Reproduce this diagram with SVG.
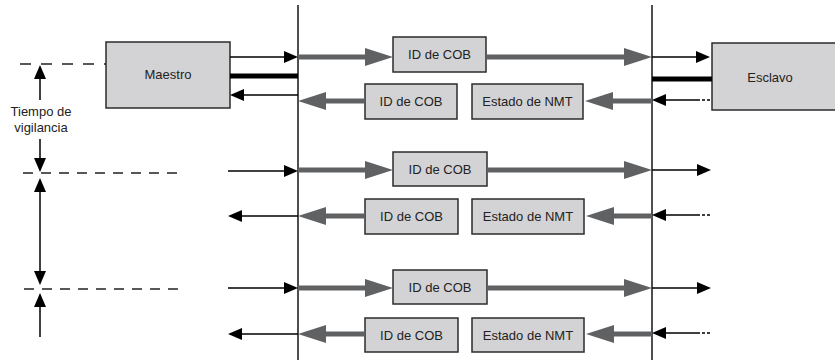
<svg xmlns="http://www.w3.org/2000/svg" width="835" height="360" viewBox="0 0 835 360">
<style>
.box{fill:#d3d3d5;stroke:#2b2b2b;stroke-width:1.5}
.t{font-family:"Liberation Sans",Arial,sans-serif;font-size:13px;fill:#222;text-anchor:middle}
.bus{stroke:#222;stroke-width:1.6;fill:none}
.blka{stroke:#000;stroke-width:1.5;fill:none;marker-end:url(#ah)}
.both{stroke:#000;stroke-width:1.5;fill:none;marker-end:url(#ah);marker-start:url(#ahs)}
.gra{stroke:#5f6163;stroke-width:5;fill:none;marker-end:url(#gh)}
.thick{stroke:#000;stroke-width:5;fill:none}
.dash{stroke:#222;stroke-width:1.3;fill:none;stroke-dasharray:10 8}
.dot{stroke:#000;stroke-width:1.5;fill:none;stroke-dasharray:3 2}
</style>
<defs>
<marker id="ah" markerUnits="userSpaceOnUse" markerWidth="14" markerHeight="12" refX="11" refY="6" orient="auto"><path d="M0,0 L14,6 L0,12 z" fill="#000"/></marker>
<marker id="ahs" markerUnits="userSpaceOnUse" markerWidth="14" markerHeight="12" refX="11" refY="6" orient="auto-start-reverse"><path d="M0,0 L14,6 L0,12 z" fill="#000"/></marker>
<marker id="gh" markerUnits="userSpaceOnUse" markerWidth="28" markerHeight="18" refX="8" refY="9" orient="auto"><path d="M0,0 L28,9 L0,18 z" fill="#5f6163"/></marker>
</defs>

<g id="buses">
<line class="bus" x1="298" y1="5" x2="298" y2="360"/>
<line class="bus" x1="652" y1="5" x2="652" y2="360"/>
</g>

<g id="timeline">
<line class="dash" x1="20" y1="64" x2="106" y2="64" style="stroke-dasharray:11 10"/>
<line class="dash" x1="23" y1="173" x2="182" y2="173"/>
<line class="dash" x1="24" y1="289" x2="182" y2="289"/>
<line class="blka" x1="40" y1="100" x2="40" y2="68"/>
<line class="blka" x1="40" y1="139" x2="40" y2="169"/>
<line class="both" x1="40" y1="181" x2="40" y2="282"/>
<line class="blka" x1="40" y1="337" x2="40" y2="296"/>
<text class="t" x="41" y="116">Tiempo de</text>
<text class="t" x="41" y="132">vigilancia</text>
</g>

<g id="maestro">
<rect class="box" x="106" y="42" width="124" height="66"/>
<text class="t" x="168" y="79">Maestro</text>
</g>

<g id="esclavo">
<rect class="box" x="712" y="43" width="130" height="67"/>
<text class="t" x="770" y="82">Esclavo</text>
</g>

<g id="r1-cob-tx"><rect class="box" x="393" y="37" width="93" height="35"/><text class="t" x="439.5" y="59">ID de COB</text></g>
<g id="r1-cob-rx"><rect class="box" x="365" y="84" width="92" height="35"/><text class="t" x="411" y="106">ID de COB</text></g>
<g id="r1-nmt"><rect class="box" x="472" y="84" width="111" height="35"/><text class="t" x="527.5" y="106">Estado de NMT</text></g>

<g id="r2-cob-tx"><rect class="box" x="393" y="152" width="94" height="34"/><text class="t" x="440" y="173.5">ID de COB</text></g>
<g id="r2-cob-rx"><rect class="box" x="365" y="199" width="93" height="35"/><text class="t" x="411.5" y="221">ID de COB</text></g>
<g id="r2-nmt"><rect class="box" x="472" y="199" width="112" height="35"/><text class="t" x="528" y="221">Estado de NMT</text></g>

<g id="r3-cob-tx"><rect class="box" x="393" y="270" width="94" height="34"/><text class="t" x="440" y="291.5">ID de COB</text></g>
<g id="r3-cob-rx"><rect class="box" x="365" y="318" width="93" height="34"/><text class="t" x="411.5" y="339.5">ID de COB</text></g>
<g id="r3-nmt"><rect class="box" x="472" y="318" width="112" height="34"/><text class="t" x="528" y="339.5">Estado de NMT</text></g>

<g id="connectors">
<!-- row 1 -->
<line class="blka" x1="230" y1="57" x2="295" y2="57"/>
<line class="thick" x1="230" y1="76" x2="298" y2="76"/>
<line class="blka" x1="298" y1="95" x2="233" y2="95"/>
<line class="gra" x1="298" y1="57" x2="373" y2="57"/>
<line class="gra" x1="486" y1="57" x2="632" y2="57"/>
<line class="gra" x1="652" y1="101" x2="605" y2="101"/>
<line class="gra" x1="365" y1="101" x2="318" y2="101"/>
<line class="blka" x1="652" y1="57" x2="707" y2="57"/>
<line class="thick" x1="652" y1="79" x2="712" y2="79"/>
<line class="blka" x1="697" y1="100" x2="655" y2="100"/>
<line class="dot" x1="697" y1="100" x2="712" y2="100"/>
<!-- row 2 -->
<line class="blka" x1="228" y1="171" x2="295" y2="171"/>
<line class="blka" x1="298" y1="216" x2="231" y2="216"/>
<line class="gra" x1="298" y1="170" x2="373" y2="170"/>
<line class="gra" x1="487" y1="170" x2="632" y2="170"/>
<line class="gra" x1="652" y1="216" x2="606" y2="216"/>
<line class="gra" x1="365" y1="216" x2="318" y2="216"/>
<line class="blka" x1="652" y1="170" x2="708" y2="170"/>
<line class="blka" x1="697" y1="215" x2="655" y2="215"/>
<line class="dot" x1="697" y1="215" x2="712" y2="215"/>
<!-- row 3 -->
<line class="blka" x1="228" y1="288" x2="295" y2="288"/>
<line class="blka" x1="298" y1="334" x2="231" y2="334"/>
<line class="gra" x1="298" y1="288" x2="373" y2="288"/>
<line class="gra" x1="487" y1="288" x2="632" y2="288"/>
<line class="gra" x1="652" y1="334" x2="606" y2="334"/>
<line class="gra" x1="365" y1="334" x2="318" y2="334"/>
<line class="blka" x1="652" y1="288" x2="708" y2="288"/>
<line class="blka" x1="697" y1="333" x2="655" y2="333"/>
<line class="dot" x1="697" y1="333" x2="712" y2="333"/>
</g>
</svg>
